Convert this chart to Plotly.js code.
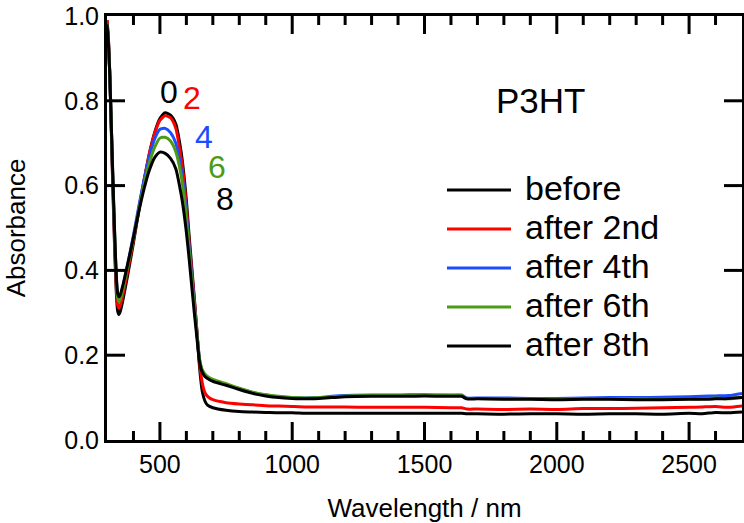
<!DOCTYPE html>
<html><head><meta charset="utf-8">
<script src="https://cdn.plot.ly/plotly-3.0.1.min.js"></script>
<style>html,body{margin:0;padding:0;background:#fff}#chart{width:744px;height:523px}</style>
</head><body><div id="chart"></div>
<script>
const wavelength = [300,305,310,315,320,325,330,335,340,345,350,360,380,400,420,440,460,480,500,520,540,560,580,590,600,610,620,630,640,650,660,670,680,700,750,800,850,900,950,1000,1050,1100,1150,1200,1300,1400,1500,1600,1640,1660,1700,1800,1900,2000,2100,2200,2300,2400,2500,2550,2600,2650,2700];

const before = [0.99,0.95,0.87,0.76,0.64,0.53,0.43,0.35,0.305,0.296,0.303,0.33,0.395,0.465,0.54,0.61,0.675,0.725,0.758,0.772,0.766,0.745,0.68,0.63,0.565,0.485,0.41,0.335,0.255,0.17,0.115,0.092,0.082,0.076,0.07,0.067,0.066,0.065,0.064,0.064,0.063,0.063,0.063,0.063,0.063,0.063,0.063,0.063,0.063,0.062,0.062,0.061,0.062,0.062,0.061,0.062,0.062,0.061,0.063,0.062,0.065,0.064,0.066];

const after2nd = [0.99,0.95,0.875,0.77,0.65,0.545,0.445,0.365,0.32,0.311,0.317,0.343,0.405,0.472,0.545,0.613,0.675,0.723,0.754,0.765,0.76,0.735,0.665,0.615,0.55,0.47,0.40,0.33,0.255,0.18,0.135,0.112,0.103,0.095,0.088,0.085,0.083,0.081,0.08,0.079,0.078,0.078,0.078,0.078,0.077,0.077,0.077,0.076,0.076,0.073,0.073,0.072,0.073,0.072,0.074,0.074,0.075,0.076,0.077,0.078,0.079,0.077,0.08];

const after4th = [0.98,0.94,0.87,0.77,0.66,0.555,0.46,0.385,0.34,0.331,0.336,0.36,0.42,0.483,0.55,0.613,0.668,0.71,0.733,0.735,0.725,0.70,0.64,0.595,0.535,0.46,0.39,0.32,0.25,0.19,0.162,0.152,0.147,0.14,0.131,0.121,0.112,0.106,0.102,0.1,0.099,0.1,0.103,0.105,0.106,0.106,0.107,0.106,0.106,0.099,0.099,0.099,0.098,0.098,0.099,0.1,0.1,0.101,0.102,0.103,0.104,0.105,0.11];

const after6th = [0.98,0.94,0.87,0.77,0.66,0.56,0.465,0.385,0.337,0.326,0.331,0.355,0.415,0.477,0.542,0.602,0.653,0.69,0.712,0.714,0.705,0.68,0.625,0.58,0.52,0.45,0.38,0.315,0.25,0.19,0.166,0.156,0.15,0.143,0.133,0.122,0.113,0.107,0.103,0.1,0.099,0.1,0.102,0.104,0.105,0.105,0.106,0.105,0.105,0.098,0.098,0.097,0.097,0.096,0.097,0.097,0.097,0.096,0.097,0.097,0.099,0.097,0.1];

const after8th = [0.98,0.94,0.87,0.77,0.665,0.565,0.47,0.39,0.347,0.338,0.342,0.365,0.42,0.478,0.538,0.592,0.636,0.666,0.679,0.676,0.664,0.64,0.58,0.54,0.49,0.43,0.365,0.30,0.24,0.183,0.16,0.15,0.145,0.138,0.129,0.119,0.11,0.104,0.1,0.098,0.097,0.098,0.1,0.102,0.103,0.103,0.104,0.103,0.103,0.097,0.097,0.096,0.096,0.095,0.096,0.096,0.095,0.095,0.096,0.096,0.097,0.098,0.1];

const seriesNames = ['before','after 2nd','after 4th','after 6th','after 8th'];
const seriesValues = [before, after2nd, after4th, after6th, after8th];
const seriesColors = ['#000000','#ff0000','#1c4cff','#4b9b14','#000000'];
const peakLabels = ['0','2','4','6','8'];
const xTickVals = [500,1000,1500,2000,2500];
const xMinorTickVals = [400,600,700,800,900,1100,1200,1300,1400,1600,1700,1800,1900,2100,2200,2300,2400,2600];
const yTickVals = [0.0,0.2,0.4,0.6,0.8,1.0];

const FONT = 'Liberation Sans, Arial, Helvetica, sans-serif';
const X_RANGE = [300,2700], Y_RANGE = [0,1];
const PLOT_W = 635, PLOT_H = 424, MAJOR = 18, MINOR = 9;

const traces = seriesNames.map((n,i)=>({
  x: wavelength, y: seriesValues[i], name: n, type:'scatter', mode:'lines',
  showlegend:false,
  line:{color:seriesColors[i], width:3, shape:'spline', smoothing:0.6}
}));

// inward tick marks on all four sides (built from the tick arrays, in axis units)
const dyMajor = MAJOR/PLOT_H*(Y_RANGE[1]-Y_RANGE[0]);
const dyMinor = MINOR/PLOT_H*(Y_RANGE[1]-Y_RANGE[0]);
const dxMajor = MAJOR/PLOT_W*(X_RANGE[1]-X_RANGE[0]);
const tx = [], ty = [];
function addX(v, d){
  tx.push(v, v, null, v, v, null);
  ty.push(Y_RANGE[0], Y_RANGE[0]+d, null, Y_RANGE[1], Y_RANGE[1]-d, null);
}
xTickVals.forEach(v=>addX(v, dyMajor));
xMinorTickVals.forEach(v=>addX(v, dyMinor));
yTickVals.slice(1,-1).forEach(v=>{
  tx.push(X_RANGE[0], X_RANGE[0]+dxMajor, null, X_RANGE[1], X_RANGE[1]-dxMajor, null);
  ty.push(v, v, null, v, v, null);
});
traces.push({x:tx, y:ty, type:'scatter', mode:'lines', showlegend:false, hoverinfo:'skip',
  connectgaps:false, line:{color:'#000', width:3}});

const labelPos = [[533,0.821],[623,0.807],[665,0.715],[716,0.644],[746,0.568]];
const annotations = peakLabels.map((t,i)=>({
  x: labelPos[i][0], y: labelPos[i][1], xref:'x', yref:'y', text:t, showarrow:false,
  font:{family:FONT, size:32, color:seriesColors[i]}, xanchor:'center', yanchor:'middle'
}));
annotations.push({x:1940, y:0.80, xref:'x', yref:'y', text:'P3HT', showarrow:false,
  font:{family:FONT, size:35, color:'#000'}, xanchor:'center', yanchor:'middle'});

const shapes = [];
seriesNames.forEach((n,i)=>{
  const yp = (440 - (190 + 39*i)) / 424;
  shapes.push({type:'line', xref:'paper', yref:'paper', x0:0.5354, x1:0.6362, y0:yp, y1:yp,
    line:{color:seriesColors[i], width:3}});
  annotations.push({xref:'paper', yref:'paper', x:0.655, y:yp + 0.004, text:n, showarrow:false,
    xanchor:'left', yanchor:'middle', font:{family:FONT, size:34, color:'#000'}});
});

const layout = {
  width:744, height:523,
  margin:{l:107, r:2, t:16, b:83},
  showlegend:false,
  xaxis: {
    showline:true, linecolor:'#000', linewidth:3, mirror:true,
    ticks:'', showgrid:false, zeroline:false,
    tickfont:{family:FONT, size:25, color:'#000'},
    range:X_RANGE, tickmode:'array', tickvals:xTickVals,
    title:{text:'Wavelength / nm', font:{family:FONT, size:26, color:'#000'}, standoff:30}
  },
  yaxis: {
    showline:true, linecolor:'#000', linewidth:3, mirror:true,
    ticks:'', showgrid:false, zeroline:false,
    tickfont:{family:FONT, size:25, color:'#000'},
    range:Y_RANGE, tickmode:'array', tickvals:yTickVals, tickformat:'.1f',
    title:{text:'Absorbance', font:{family:FONT, size:26, color:'#000'}, standoff:32}
  },
  annotations: annotations,
  shapes: shapes
};

Plotly.newPlot('chart', traces, layout, {displayModeBar:false});
</script>
</body></html>
